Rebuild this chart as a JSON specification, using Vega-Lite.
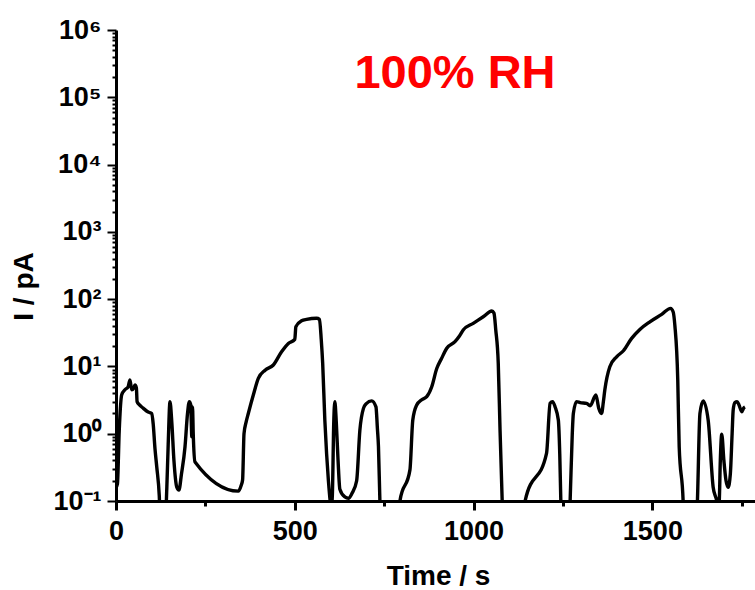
{
  "$schema": "https://vega.github.io/schema/vega-lite/v6.json",
  "autosize": "none",
  "width": 639,
  "height": 471,
  "padding": {"left": 116, "top": 30, "right": 0, "bottom": 89},
  "background": "white",
  "config": {"view": {"stroke": null}, "axis": {"grid": false}},
  "datasets": {
    "curve": [
      {"t": 0, "I": 0.16}, {"t": 4, "I": 0.18}, {"t": 9, "I": 1.1}, {"t": 16, "I": 3.8}, {"t": 25, "I": 4.5},
      {"t": 34, "I": 5.0}, {"t": 39, "I": 6.3}, {"t": 44, "I": 4.5}, {"t": 50, "I": 4.8}, {"t": 53, "I": 5.3},
      {"t": 57, "I": 4.8}, {"t": 59, "I": 3.0}, {"t": 65, "I": 2.7}, {"t": 76, "I": 2.4}, {"t": 90, "I": 2.1},
      {"t": 100, "I": 2.0}, {"t": 104, "I": 1.4}, {"t": 109, "I": 0.6}, {"t": 114, "I": 0.32}, {"t": 121, "I": 0.12},
      {"t": 124, "I": 0.05}, {"t": 138, "I": 0.05}, {"t": 142, "I": 0.15}, {"t": 146, "I": 0.7}, {"t": 151, "I": 3.0},
      {"t": 156, "I": 1.5}, {"t": 162, "I": 0.4}, {"t": 170, "I": 0.16}, {"t": 176, "I": 0.145}, {"t": 183, "I": 0.25},
      {"t": 193, "I": 0.64}, {"t": 200, "I": 2.0}, {"t": 205, "I": 3.0}, {"t": 209, "I": 2.7}, {"t": 211, "I": 1.2},
      {"t": 212, "I": 0.9}, {"t": 214, "I": 2.5}, {"t": 216, "I": 1.0}, {"t": 221, "I": 0.38}, {"t": 342, "I": 0.14},
      {"t": 350, "I": 0.17}, {"t": 354, "I": 0.205}, {"t": 358, "I": 1.0}, {"t": 364, "I": 1.5}, {"t": 370, "I": 2.0},
      {"t": 384, "I": 3.76}, {"t": 398, "I": 6.65}, {"t": 417, "I": 8.8}, {"t": 440, "I": 10.5}, {"t": 463, "I": 16.5},
      {"t": 482, "I": 22}, {"t": 500, "I": 25.2}, {"t": 503, "I": 38.9}, {"t": 519, "I": 47.6}, {"t": 533, "I": 50},
      {"t": 561, "I": 51.9}, {"t": 569, "I": 50}, {"t": 574, "I": 25}, {"t": 578, "I": 11.1}, {"t": 584, "I": 1.6},
      {"t": 589, "I": 0.5}, {"t": 594, "I": 0.2}, {"t": 599, "I": 0.1}, {"t": 602, "I": 0.08}, {"t": 605, "I": 0.12},
      {"t": 609, "I": 1.5}, {"t": 612, "I": 3.0}, {"t": 616, "I": 1.5}, {"t": 621, "I": 0.4}, {"t": 626, "I": 0.15},
      {"t": 640, "I": 0.115}, {"t": 650, "I": 0.11}, {"t": 660, "I": 0.13}, {"t": 673, "I": 0.2}, {"t": 682, "I": 1.13},
      {"t": 692, "I": 2.38}, {"t": 700, "I": 2.8}, {"t": 715, "I": 3.08}, {"t": 727, "I": 2.5}, {"t": 731, "I": 1.2},
      {"t": 734, "I": 0.64}, {"t": 738, "I": 0.1}, {"t": 740, "I": 0.05}, {"t": 792, "I": 0.05}, {"t": 794, "I": 0.1},
      {"t": 822, "I": 0.29}, {"t": 830, "I": 1.6}, {"t": 841, "I": 2.67}, {"t": 855, "I": 3.2}, {"t": 869, "I": 3.55},
      {"t": 883, "I": 4.99}, {"t": 897, "I": 9.3}, {"t": 910, "I": 13}, {"t": 925, "I": 18.6}, {"t": 948, "I": 23.3},
      {"t": 960, "I": 28}, {"t": 971, "I": 34.8}, {"t": 999, "I": 43.7}, {"t": 1027, "I": 54.7}, {"t": 1051, "I": 66.5},
      {"t": 1057, "I": 62}, {"t": 1062, "I": 35}, {"t": 1069, "I": 11.1}, {"t": 1074, "I": 1.13}, {"t": 1080, "I": 0.1},
      {"t": 1082, "I": 0.05}, {"t": 1142, "I": 0.05}, {"t": 1144, "I": 0.1}, {"t": 1204, "I": 0.51}, {"t": 1214, "I": 2.83},
      {"t": 1221, "I": 3.0}, {"t": 1228, "I": 2.5}, {"t": 1237, "I": 1.6}, {"t": 1241, "I": 0.5}, {"t": 1244, "I": 0.1},
      {"t": 1246, "I": 0.05}, {"t": 1268, "I": 0.05}, {"t": 1270, "I": 0.1}, {"t": 1276, "I": 1.0}, {"t": 1279, "I": 2.0},
      {"t": 1288, "I": 3.0}, {"t": 1298, "I": 2.9}, {"t": 1316, "I": 2.83}, {"t": 1326, "I": 2.6}, {"t": 1342, "I": 3.76},
      {"t": 1350, "I": 2.4}, {"t": 1358, "I": 2.0}, {"t": 1363, "I": 3.0}, {"t": 1367, "I": 4.46}, {"t": 1381, "I": 9.9},
      {"t": 1400, "I": 13.9}, {"t": 1419, "I": 17.1}, {"t": 1442, "I": 26.1}, {"t": 1465, "I": 35.5}, {"t": 1493, "I": 46.1},
      {"t": 1526, "I": 59.4}, {"t": 1551, "I": 73}, {"t": 1558, "I": 65}, {"t": 1563, "I": 40}, {"t": 1571, "I": 6.3},
      {"t": 1575, "I": 0.64}, {"t": 1586, "I": 0.1}, {"t": 1588, "I": 0.05}, {"t": 1624, "I": 0.05}, {"t": 1626, "I": 0.1},
      {"t": 1633, "I": 2.0}, {"t": 1642, "I": 3.08}, {"t": 1656, "I": 1.6}, {"t": 1670, "I": 0.16}, {"t": 1680, "I": 0.1},
      {"t": 1683, "I": 0.08}, {"t": 1687, "I": 0.1}, {"t": 1690, "I": 0.4}, {"t": 1694, "I": 0.98}, {"t": 1700, "I": 0.4},
      {"t": 1706, "I": 0.2}, {"t": 1712, "I": 0.16}, {"t": 1718, "I": 0.25}, {"t": 1723, "I": 1.0}, {"t": 1726, "I": 2.25},
      {"t": 1731, "I": 2.9}, {"t": 1737, "I": 3.0}, {"t": 1742, "I": 2.7}, {"t": 1750, "I": 2.12}, {"t": 1755, "I": 2.4},
      {"t": 1759, "I": 2.5}
    ],
    "note": [{"t": 948, "I": 137000, "label": "100% RH"}]
  },
  "layer": [
    {
      "data": {"name": "curve"},
      "mark": {"type": "line", "color": "black", "strokeWidth": 3.4, "clip": true, "interpolate": "monotone"},
      "encoding": {
        "x": {
          "field": "t", "type": "quantitative",
          "scale": {"domain": [0, 1787], "nice": false, "zero": false},
          "axis": {
            "title": "Time / s",
            "values": [0, 250, 500, 750, 1000, 1250, 1500, 1750],
            "labelExpr": "datum.value % 500 == 0 ? datum.label : ''",
            "labelFont": "Liberation Sans", "labelFontWeight": "bold", "labelFontSize": 27, "labelColor": "black",
            "labelPadding": 8, "labelFlush": false, "labelOverlap": false,
            "titleFont": "Liberation Sans", "titleFontWeight": "bold", "titleFontSize": 28, "titleColor": "black",
            "titleBaseline": "alphabetic", "titleY": 83, "titleX": 322,
            "domainColor": "black", "domainWidth": 3, "tickColor": "black", "tickWidth": 3,
            "tickSize": {"condition": {"test": "datum.value % 500 == 0", "value": 9}, "value": 5},
            "format": "d"
          }
        },
        "y": {
          "field": "I", "type": "quantitative",
          "scale": {"type": "log", "domain": [0.1, 1000000], "nice": false},
          "axis": {
            "title": "I / pA",
            "values": [0.1, 0.2, 0.3, 0.4, 0.5, 0.6, 0.7, 0.8, 0.9, 1, 2, 3, 4, 5, 6, 7, 8, 9, 10, 20, 30, 40, 50, 60, 70, 80, 90, 100, 200, 300, 400, 500, 600, 700, 800, 900, 1000, 2000, 3000, 4000, 5000, 6000, 7000, 8000, 9000, 10000, 20000, 30000, 40000, 50000, 60000, 70000, 80000, 90000, 100000, 200000, 300000, 400000, 500000, 600000, 700000, 800000, 900000, 1000000],
            "labelExpr": "abs(log(datum.value)/LN10 - round(log(datum.value)/LN10)) > 0.001 ? '' : (round(log(datum.value)/LN10) == -1 ? '10⁻¹' : round(log(datum.value)/LN10) == 0 ? '10⁰' : round(log(datum.value)/LN10) == 1 ? '10¹' : round(log(datum.value)/LN10) == 2 ? '10²' : round(log(datum.value)/LN10) == 3 ? '10³' : round(log(datum.value)/LN10) == 4 ? '10⁴' : round(log(datum.value)/LN10) == 5 ? '10⁵' : '10⁶')",
            "labelFont": "Liberation Sans", "labelFontWeight": "bold", "labelFontSize": 27, "labelColor": "black",
            "labelPadding": 6, "labelFlush": false, "labelOverlap": false,
            "titleFont": "Liberation Sans", "titleFontWeight": "bold", "titleFontSize": 28, "titleColor": "black",
            "titleBaseline": "alphabetic", "titleAngle": -90, "titleX": -84, "titleY": 256,
            "domainColor": "black", "domainWidth": 3, "tickColor": "black", "tickWidth": 2,
            "tickSize": {"condition": {"test": "abs(log(datum.value)/LN10 - round(log(datum.value)/LN10)) < 0.001", "value": 9}, "value": 4}
          }
        }
      }
    },
    {
      "data": {"name": "note"},
      "mark": {"type": "text", "color": "#ff0000", "font": "Liberation Sans", "fontWeight": "bold", "fontSize": 47, "align": "center", "baseline": "alphabetic"},
      "encoding": {
        "x": {"field": "t", "type": "quantitative"},
        "y": {"field": "I", "type": "quantitative"},
        "text": {"field": "label"}
      }
    }
  ]
}
